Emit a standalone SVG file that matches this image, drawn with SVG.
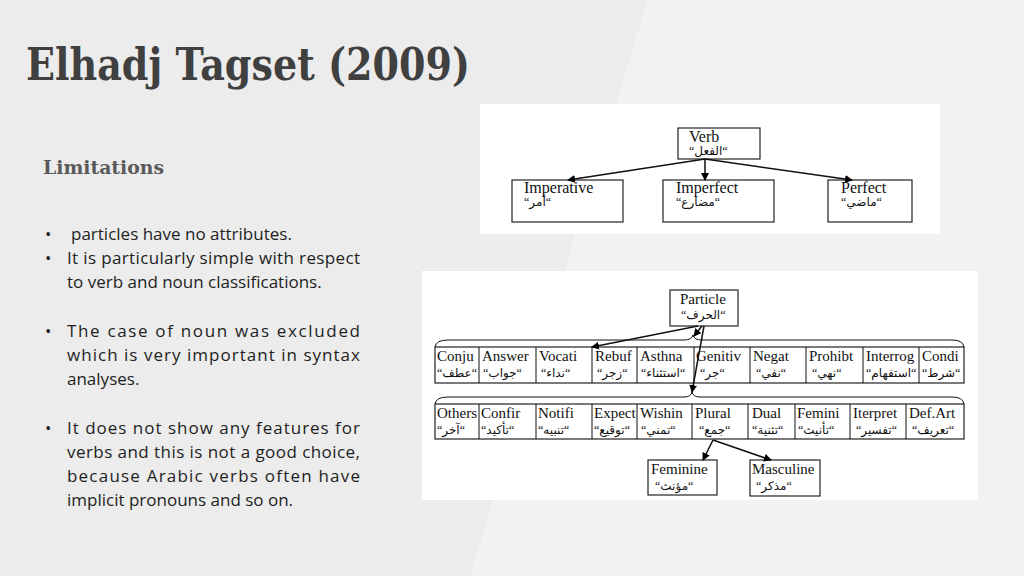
<svg xmlns="http://www.w3.org/2000/svg" width="1024" height="576" viewBox="0 0 1024 576">
<defs>
<marker id="ah" markerWidth="8" markerHeight="8" refX="7" refY="4" orient="auto" markerUnits="userSpaceOnUse"><path d="M0,0 L8,4 L0,8 z" fill="#000"/></marker>
<style>
.b{fill:#fff;stroke:#222;stroke-width:1.2}
.e{font-family:"Liberation Serif",serif;font-size:15px;fill:#111}
.a{font-family:"Liberation Serif","DejaVu Sans",serif;font-size:12px;fill:#111}
.ev{font-family:"Liberation Serif",serif;font-size:16px;fill:#111}
.c{stroke:#111;stroke-width:1.5;fill:none}
.t{font-family:"Open Sans",sans-serif;font-size:17px;fill:#1e1e1e}
</style>
</defs>
<rect width="1024" height="576" fill="#ececec"/>
<polygon points="648,0 1024,0 1024,576 470,576" fill="#f2f2f2"/>
<text x="26" y="80" font-family="DejaVu Serif,serif" font-weight="bold" font-size="44" fill="#404040" textLength="444" lengthAdjust="spacingAndGlyphs">Elhadj Tagset (2009)</text>
<text x="43" y="174" font-family="DejaVu Serif,serif" font-weight="bold" font-size="19" fill="#595959" textLength="121" lengthAdjust="spacingAndGlyphs">Limitations</text>
<g class="t">
<text x="45" y="240">•</text><text x="71" y="240">particles have no attributes.</text>
<text x="45" y="264">•</text><text x="67" y="264" textLength="293">It is particularly simple with respect</text>
<text x="67" y="288">to verb and noun classifications.</text>
<text x="45" y="337">•</text><text x="67" y="337" textLength="293">The case of noun was excluded</text>
<text x="67" y="361" textLength="293">which is very important in syntax</text>
<text x="67" y="385">analyses.</text>
<text x="45" y="434">•</text><text x="67" y="434" textLength="293">It does not show any features for</text>
<text x="67" y="458" textLength="293">verbs and this is not a good choice,</text>
<text x="67" y="482" textLength="293">because Arabic verbs often have</text>
<text x="67" y="506">implicit pronouns and so on.</text>
</g>
<rect x="480" y="104" width="460" height="130" fill="#fff"/>
<g id="verb"><rect class="b" x="678" y="128" width="82" height="31"/><text class="ev" x="689" y="142">Verb</text><text class="a" x="689" y="155">“الفعل“</text></g>
<g id="imperative"><rect class="b" x="512" y="180" width="111" height="42"/><text class="ev" x="524" y="193">Imperative</text><text class="a" x="524" y="206">“أمر“</text></g>
<g id="imperfect"><rect class="b" x="663" y="180" width="111" height="42"/><text class="ev" x="676" y="193">Imperfect</text><text class="a" x="676" y="206">“مضارع“</text></g>
<g id="perfect"><rect class="b" x="828" y="180" width="84" height="42"/><text class="ev" x="841" y="193">Perfect</text><text class="a" x="841" y="206">“ماضي“</text></g>
<rect x="422" y="271" width="556" height="229" fill="#fff"/>
<g id="particle"><rect class="b" x="670" y="290" width="68" height="36"/><text class="e" x="680" y="304">Particle</text><text class="a" x="681" y="319">“الحرف“</text></g>
<g id="row1">
<rect class="b" x="435" y="347" width="529" height="36"/>
<path class="c" style="stroke-width:1" d="M479,347V383M536,347V383M592,347V383M637,347V383M694,347V383M750,347V383M806,347V383M863,347V383M919,347V383"/>
<g class="e"><text x="437" y="361">Conju</text><text x="482" y="361">Answer</text><text x="539" y="361">Vocati</text><text x="595" y="361">Rebuf</text><text x="640" y="361">Asthna</text><text x="696" y="361">Genitiv</text><text x="753" y="361">Negat</text><text x="809" y="361">Prohibt</text><text x="866" y="361">Interrog</text><text x="922" y="361">Condi</text></g>
<g class="a"><text x="437" y="377">“عطف“</text><text x="483" y="377">“جواب“</text><text x="541" y="377">“نداء“</text><text x="597" y="377">“زجر“</text><text x="641" y="377">“استثناء“</text><text x="700" y="377">“جر“</text><text x="756" y="377">“نفي“</text><text x="812" y="377">“نهي“</text><text x="866" y="377">“استفهام“</text><text x="922" y="377">“شرط“</text></g>
</g>
<g id="row2">
<rect class="b" x="435" y="404" width="529" height="35"/>
<path class="c" style="stroke-width:1" d="M479,404V439M536,404V439M592,404V439M637,404V439M692,404V439M748,404V439M795,404V439M850,404V439M906,404V439"/>
<g class="e"><text x="437" y="418">Others</text><text x="481" y="418">Confir</text><text x="538" y="418">Notifi</text><text x="594" y="418">Expect</text><text x="640" y="418">Wishin</text><text x="695" y="418">Plural</text><text x="752" y="418">Dual</text><text x="797" y="418">Femini</text><text x="853" y="418">Iterpret</text><text x="909" y="418">Def.Art</text></g>
<g class="a"><text x="437" y="434">“آخر“</text><text x="481" y="434">“تأكيد“</text><text x="538" y="434">“تنبيه“</text><text x="594" y="434">“توقيع“</text><text x="641" y="434">“تمني“</text><text x="699" y="434">“جمع“</text><text x="752" y="434">“تثنية“</text><text x="798" y="434">“تأنيث“</text><text x="856" y="434">“تفسير“</text><text x="912" y="434">“تعريف“</text></g>
</g>
<g id="feminine"><rect class="b" x="648" y="460" width="69" height="35"/><text class="e" x="651" y="474">Feminine</text><text class="a" x="655" y="490">“مؤنث“</text></g>
<g id="masculine"><rect class="b" x="750" y="460" width="70" height="36"/><text class="e" x="752" y="474">Masculine</text><text class="a" x="756" y="490">“مذكر“</text></g>
<g id="connectors">
<line class="c" x1="705" y1="159" x2="568" y2="180" marker-end="url(#ah)"/>
<line class="c" x1="705" y1="159" x2="705" y2="180" marker-end="url(#ah)"/>
<line class="c" x1="705" y1="159" x2="852" y2="180" marker-end="url(#ah)"/>
<path class="c" style="stroke-width:1" d="M435,347 Q436,340 448,340 L684,340 Q692,340 693,335 Q694,340 702,340 L952,340 Q963,340 964,347"/>
<path class="c" style="stroke-width:1" d="M435,404 Q436,397 448,397 L684,397 Q691,397 692,392 Q693,397 700,397 L952,397 Q963,397 964,404"/>
<line class="c" x1="698" y1="326" x2="592" y2="347" marker-end="url(#ah)"/>
<line class="c" x1="702" y1="326" x2="694" y2="336" marker-end="url(#ah)"/>
<line class="c" x1="704" y1="326" x2="692" y2="392" marker-end="url(#ah)"/>
<line class="c" x1="713" y1="440" x2="703" y2="460" marker-end="url(#ah)"/>
<line class="c" x1="713" y1="440" x2="771" y2="460" marker-end="url(#ah)"/>
</g>
</svg>
